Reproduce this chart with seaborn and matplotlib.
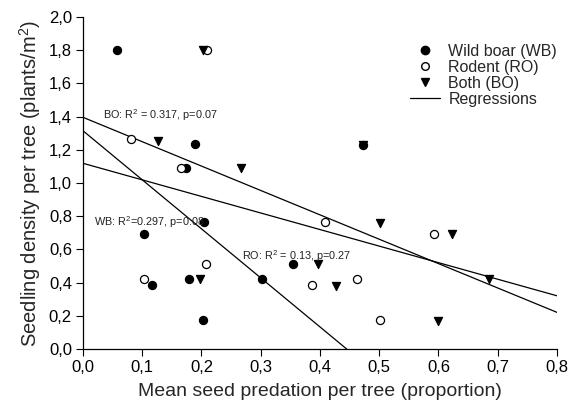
import numpy as np
import pandas as pd
import matplotlib
matplotlib.use("Agg")
import matplotlib.pyplot as plt
from matplotlib.lines import Line2D
from matplotlib.ticker import FuncFormatter
import seaborn as sns

# ---- data ----
wb_x = [0.057, 0.189, 0.174, 0.103, 0.205, 0.116, 0.179, 0.203, 0.302, 0.355, 0.473]
wb_y = [1.80, 1.233, 1.09, 0.693, 0.763, 0.383, 0.422, 0.173, 0.422, 0.512, 1.229]
ro_x = [0.209, 0.081, 0.166, 0.207, 0.103, 0.387, 0.409, 0.592, 0.463, 0.501]
ro_y = [1.80, 1.263, 1.09, 0.514, 0.422, 0.384, 0.763, 0.693, 0.424, 0.173]
bo_x = [0.203, 0.126, 0.266, 0.197, 0.397, 0.501, 0.622, 0.427, 0.600, 0.685, 0.473]
bo_y = [1.80, 1.255, 1.088, 0.42, 0.51, 0.759, 0.691, 0.38, 0.169, 0.422, 1.229]

group_names = ["Wild boar (WB)", "Rodent (RO)", "Both (BO)"]
reg_names = ["WB", "RO", "BO"]
reg_intercepts = [1.315, 1.119, 1.396]
reg_slopes = [-2.955, -0.998, -1.469]
reg_labels = ["WB: R$^2$=0.297, p=0.08",
              "RO: R$^2$ = 0.13, p=0.27",
              "BO: R$^2$ = 0.317, p=0.07"]
reg_label_pos = [(0.019, 0.765), (0.269, 0.558), (0.034, 1.41)]

x_ticks = [0.0, 0.1, 0.2, 0.3, 0.4, 0.5, 0.6, 0.7, 0.8]
y_ticks = [0.0, 0.2, 0.4, 0.6, 0.8, 1.0, 1.2, 1.4, 1.6, 1.8, 2.0]

df = pd.DataFrame({
    "x": wb_x + ro_x + bo_x,
    "y": wb_y + ro_y + bo_y,
    "group": [group_names[0]] * len(wb_x) + [group_names[1]] * len(ro_x) + [group_names[2]] * len(bo_x),
})

sns.set_style("ticks")
plt.rcParams["font.family"] = ["Liberation Sans", "DejaVu Sans"]
plt.rcParams["mathtext.fontset"] = "custom"
plt.rcParams["mathtext.rm"] = "Liberation Sans"
plt.rcParams["mathtext.it"] = "Liberation Sans"

fig = plt.figure(figsize=(5.8, 4.07), dpi=100)
ax = fig.add_axes([0.1431, 0.1425, 0.9603 - 0.1431, 0.958 - 0.1425])

# regression lines
xs = np.array([0.0, 0.8])
for b0, b1 in zip(reg_intercepts, reg_slopes):
    ax.plot(xs, b0 + b1 * xs, color="black", lw=0.9, zorder=1)

# points: draw each group with own style
styles = {
    group_names[0]: dict(marker="o", facecolor="black", edgecolor="black"),
    group_names[1]: dict(marker="o", facecolor="white", edgecolor="black"),
    group_names[2]: dict(marker="v", facecolor="black", edgecolor="black"),
}
for g in [group_names[0], group_names[1], group_names[2]]:
    sub = df[df["group"] == g]
    st = styles[g]
    sns.scatterplot(data=sub, x="x", y="y", marker=st["marker"], color=st["facecolor"],
                    edgecolor=st["edgecolor"], linewidth=0.9, s=34, ax=ax, zorder=3,
                    legend=False)

for txt, (tx, ty) in zip(reg_labels, reg_label_pos):
    ax.text(tx, ty, txt, fontsize=7.8, color="#222222", va="center", ha="left")

ax.set_xlim(0, 0.8)
ax.set_ylim(0, 2.0)
ax.set_xticks(x_ticks)
ax.set_yticks(y_ticks)
fmt = FuncFormatter(lambda v, p: f"{v:.1f}".replace(".", ","))
ax.xaxis.set_major_formatter(fmt)
ax.yaxis.set_major_formatter(fmt)
ax.tick_params(direction="out", length=5, width=0.8, labelsize=12, colors="black", pad=3)
for s in ["top", "right"]:
    ax.spines[s].set_visible(False)
for s in ["left", "bottom"]:
    ax.spines[s].set_linewidth(0.9)
    ax.spines[s].set_color("black")

ax.set_xlabel("Mean seed predation per tree (proportion)", fontsize=14, labelpad=6)
ax.set_ylabel("Seedling density per tree (plants/m$^2$)", fontsize=14.5, labelpad=4)

handles = [
    Line2D([], [], marker="o", ls="", mfc="black", mec="black", ms=6),
    Line2D([], [], marker="o", ls="", mfc="white", mec="black", ms=5.5),
    Line2D([], [], marker="v", ls="", mfc="black", mec="black", ms=6),
    Line2D([], [], color="black", lw=0.9),
]
ax.legend(handles, group_names + ["Regressions"], loc="upper left",
          bbox_to_anchor=(0.69, 0.92), frameon=False, fontsize=11.5,
          handlelength=1.9, handletextpad=0.5, labelspacing=0.06, borderaxespad=0,
          borderpad=0)

fig.savefig("out.png", dpi=100)
